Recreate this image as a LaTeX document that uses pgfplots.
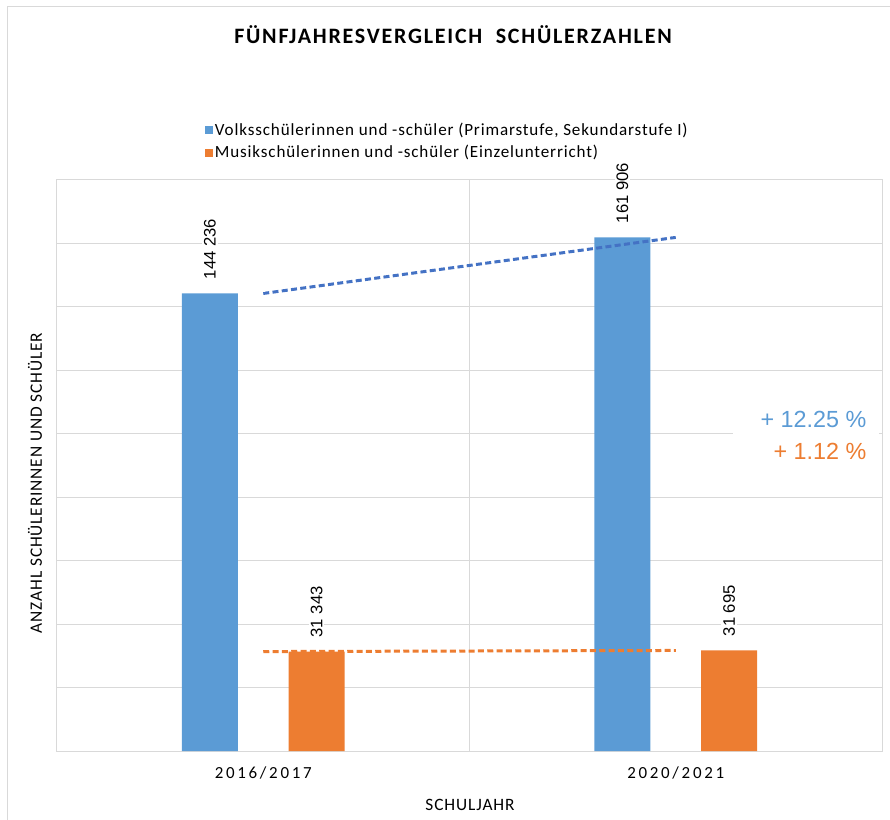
\documentclass[border=0pt]{standalone}
\usepackage{fontspec}
\setmainfont{Carlito}
\newfontfamily\arial{Liberation Sans}
\usepackage{pgfplots}
\pgfplotsset{compat=1.18}
\definecolor{vsblue}{HTML}{5B9BD5}
\definecolor{msorange}{HTML}{ED7D31}
\definecolor{trendblue}{HTML}{4472C4}
\definecolor{gridgray}{HTML}{D9D9D9}

\begin{document}
\begin{tikzpicture}[x=0.75pt,y=-0.75pt]
\path[use as bounding box] (0,0) rectangle (890,820);
\draw[gridgray, line width=0.75pt] (7,820) -- (7,7) -- (890,7);
\coordinate (P) at (57,751);
\begin{axis}[
  at={(P)}, anchor=south west,
  scale only axis, width=618.75pt, height=428.25pt,
  xmin=-0.5, xmax=1.5, ymin=0, ymax=180000,
  scaled y ticks=false,
  axis line style={draw=gridgray, line width=0.75pt},
  ytick={0,20000,...,180000}, yticklabels={},
  ymajorgrids, major grid style={gridgray, line width=0.75pt},
  major tick length=0pt,
  xtick={0,1}, xticklabels={2016/2017,2020/2021},
  x tick label style={font=\fontsize{12.7}{14}\selectfont\addfontfeature{LetterSpace=16}, yshift=-8pt},
  extra x ticks={0.5}, extra x tick labels={},
  extra x tick style={grid=major},
  legend style={at={(rel axis cs:0.179,1.104)}, anchor=north west,
    draw=none, fill=none, font=\fontsize{12.8}{14}\selectfont\addfontfeature{LetterSpace=5},
    inner sep=0pt, row sep=3pt, nodes={inner sep=1.5pt}},
  legend cell align=left,
  nodes near coords={\pgfmathprintnumber[fixed, precision=0, 1000 sep={\ }, assume math mode=true]{\pgfplotspointmeta}},
  every node near coord/.append style={font=\arial\fontsize{12.5}{14}\selectfont,
    fill=white, inner sep=1.5pt, text=black},
]
\addplot[ybar, bar width=42pt, bar shift=-40pt, fill=vsblue, draw=none,
  nodes near coords style={shift={(-40pt,9pt)}, rotate=90, anchor=west},
  legend image code/.code={\fill[vsblue] (0pt,-3pt) rectangle (6pt,3pt);}]
  coordinates {(0,144236) (1,161906)};
\addlegendentry{Volksschülerinnen und -schüler (Primarstufe, Sekundarstufe I)}
\addplot[ybar, bar width=42pt, bar shift=40pt, fill=msorange, draw=none,
  nodes near coords style={shift={(40pt,9pt)}, rotate=90, anchor=west},
  legend image code/.code={\fill[msorange] (0pt,-3pt) rectangle (6pt,3pt);}]
  coordinates {(0,31343) (1,31695)};
\addlegendentry{Musikschülerinnen und -schüler (Einzelunterricht)}
\addplot[trendblue, line width=2.25pt, dash pattern=on 4.5pt off 2.5pt, forget plot, nodes near coords={}]
  coordinates {(0,144236) (1,161906)};
\addplot[msorange, line width=2.25pt, dash pattern=on 4.5pt off 2.5pt, forget plot, nodes near coords={}]
  coordinates {(0,31343) (1,31695)};
\end{axis}
\fill[white] (733,398) rectangle (879,468);
\node[anchor=east, text=vsblue, font=\arial\fontsize{17.5}{19}\selectfont] at (871,419) {+ 12.25 \%};
\node[anchor=east, text=msorange, font=\arial\fontsize{17.5}{19}\selectfont] at (871,451) {+ 1.12 \%};
\node[font=\bfseries\fontsize{16.5}{18}\selectfont\addfontfeature{LetterSpace=8}] at (453,35) {FÜNFJAHRESVERGLEICH\ \ SCHÜLERZAHLEN};
\node[rotate=90, font=\fontsize{13}{14}\selectfont\addfontfeature{LetterSpace=5}] at (35,483) {ANZAHL SCHÜLERINNEN UND SCHÜLER};
\node[font=\fontsize{13}{14}\selectfont\addfontfeature{LetterSpace=5}] at (470,805) {SCHULJAHR};
\end{tikzpicture}
\end{document}
